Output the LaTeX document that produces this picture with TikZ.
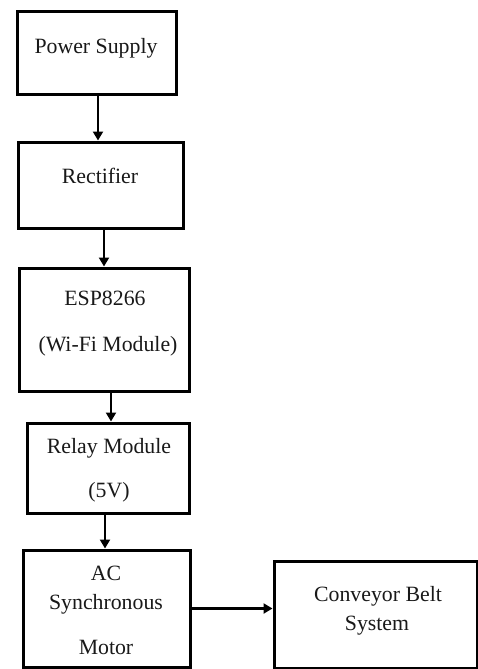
\documentclass[tikz,border=0pt]{standalone}
\usepackage{fontspec}
\setmainfont{Liberation Serif}
\usetikzlibrary{arrows.meta}
\begin{document}
\begin{tikzpicture}[x=1pt,y=-1pt,
  blk/.style={draw=black, line width=3pt, fill=white, minimum width=#1, inner sep=0pt},
  lbl/.style={anchor=base, inner sep=0pt, font=\fontsize{21.8}{26}\selectfont, text=black!90},
  arr/.style={line width=2.3pt, -{Triangle[width=10pt,length=9pt]}}]
\useasboundingbox (0,0) rectangle (478,669);
\fill[white] (0,0) rectangle (478,669);
% boxes
\node[blk=159pt, minimum height=82pt]  (ps)    at (96.5,53)   {};
\node[blk=165pt, minimum height=86pt]  (rect)  at (100.5,185) {};
\node[blk=170pt, minimum height=123pt] (esp)   at (104,329.5) {};
\node[blk=162pt, minimum height=90pt]  (relay) at (108,468)   {};
\node[blk=167pt, minimum height=117pt] (motor) at (106.5,608.5) {};
\node[blk=203pt, minimum height=107pt] (conv)  at (375.5,614.5) {};
% texts
\node[lbl] (t1)  at (96,53)   {Power Supply};
\node[lbl] (t2)  at (100,183) {Rectifier};
\node[lbl] (t3a) at (105,305) {ESP8266};
\node[lbl] (t3b) at (108,351) {(Wi-Fi Module)};
\node[lbl] (t4a) at (109,453) {Relay Module};
\node[lbl] (t4b) at (109,497) {(5V)};
\node[lbl] (t5a) at (106,580) {AC};
\node[lbl] (t5b) at (106,609) {Synchronous};
\node[lbl] (t5c) at (106,654) {Motor};
\node[lbl] (t6a) at (378,601) {Conveyor Belt};
\node[lbl] (t6b) at (377,630) {System};
% connectors
\draw[arr] ([xshift=1.5pt]ps.south) -- ([xshift=-2.5pt]rect.north);
\draw[arr] ([xshift=3.5pt]rect.south) -- ([xshift=0pt]esp.north);
\draw[arr] ([xshift=7pt]esp.south) -- ([xshift=3pt]relay.north);
\draw[arr] ([xshift=-3pt]relay.south) -- ([xshift=-1.5pt]motor.north);
\draw[arr] (motor.east) -- (conv.west |- motor.east);
\end{tikzpicture}
\end{document}
